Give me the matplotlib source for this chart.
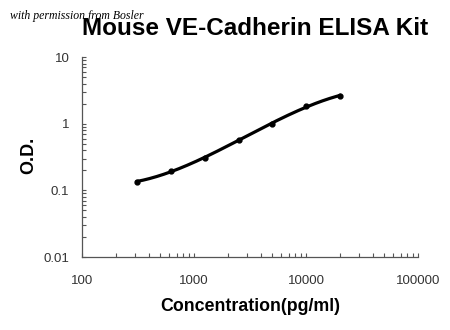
import numpy as np
import matplotlib
matplotlib.use('Agg')
import matplotlib.pyplot as plt

conc = [312.5, 625, 1250, 2500, 5000, 10000, 20000]
od = [0.135, 0.197, 0.308, 0.568, 1.0, 1.84, 2.62]
x_ticks = [100, 1000, 10000, 100000]
x_labels = ['100', '1000', '10000', '100000']
y_ticks = [0.01, 0.1, 1, 10]
y_labels = ['0.01', '0.1', '1', '10']

plt.rcParams['font.family'] = ['Liberation Sans', 'DejaVu Sans']

fig = plt.figure(figsize=(4.5, 3.3), dpi=100)
ax = fig.add_axes([0.182, 0.221, 0.747, 0.606])

# smooth fit in log-log space
lx = np.log10(conc)
ly = np.log10(od)
coef = np.polyfit(lx, ly, 3)
xs = np.linspace(lx[0], lx[-1], 200)
ax.plot(10 ** xs, 10 ** np.polyval(coef, xs), color='black', lw=2.3)
ax.plot(conc, od, 'o', color='black', ms=3.5)

ax.set_xscale('log')
ax.set_yscale('log')
ax.set_xlim(100, 100000)
ax.set_ylim(0.01, 10)
ax.set_xticks(x_ticks)
ax.set_xticklabels(x_labels)
ax.set_yticks(y_ticks)
ax.set_yticklabels(y_labels)
ax.minorticks_on()
ax.tick_params(which='both', direction='in', length=3, width=0.8,
               color='#555555', labelsize=9.5, labelcolor='#333333')
ax.tick_params(axis='x', which='major', pad=13)
ax.tick_params(axis='y', which='major', pad=9)
ax.xaxis.set_minor_formatter(matplotlib.ticker.NullFormatter())
ax.yaxis.set_minor_formatter(matplotlib.ticker.NullFormatter())

for s in ['top', 'right']:
    ax.spines[s].set_visible(False)
for s in ['left', 'bottom']:
    ax.spines[s].set_color('#555555')
    ax.spines[s].set_linewidth(0.9)

ax.set_xlabel('Concentration(pg/ml)', fontsize=12.8, fontweight='bold', labelpad=8)
ax.set_ylabel('O.D.', fontsize=13, fontweight='bold')
ax.yaxis.set_label_coords(-0.134, 0.51)
fig.text(0.567, 0.913, 'Mouse VE-Cadherin ELISA Kit', ha='center', va='center',
         fontsize=17.5, fontweight='bold')
fig.text(0.022, 0.952, 'with permission from Bosler', ha='left', va='center',
         fontsize=8.5, style='italic', family='Liberation Serif')

fig.savefig('out.png', dpi=100)
